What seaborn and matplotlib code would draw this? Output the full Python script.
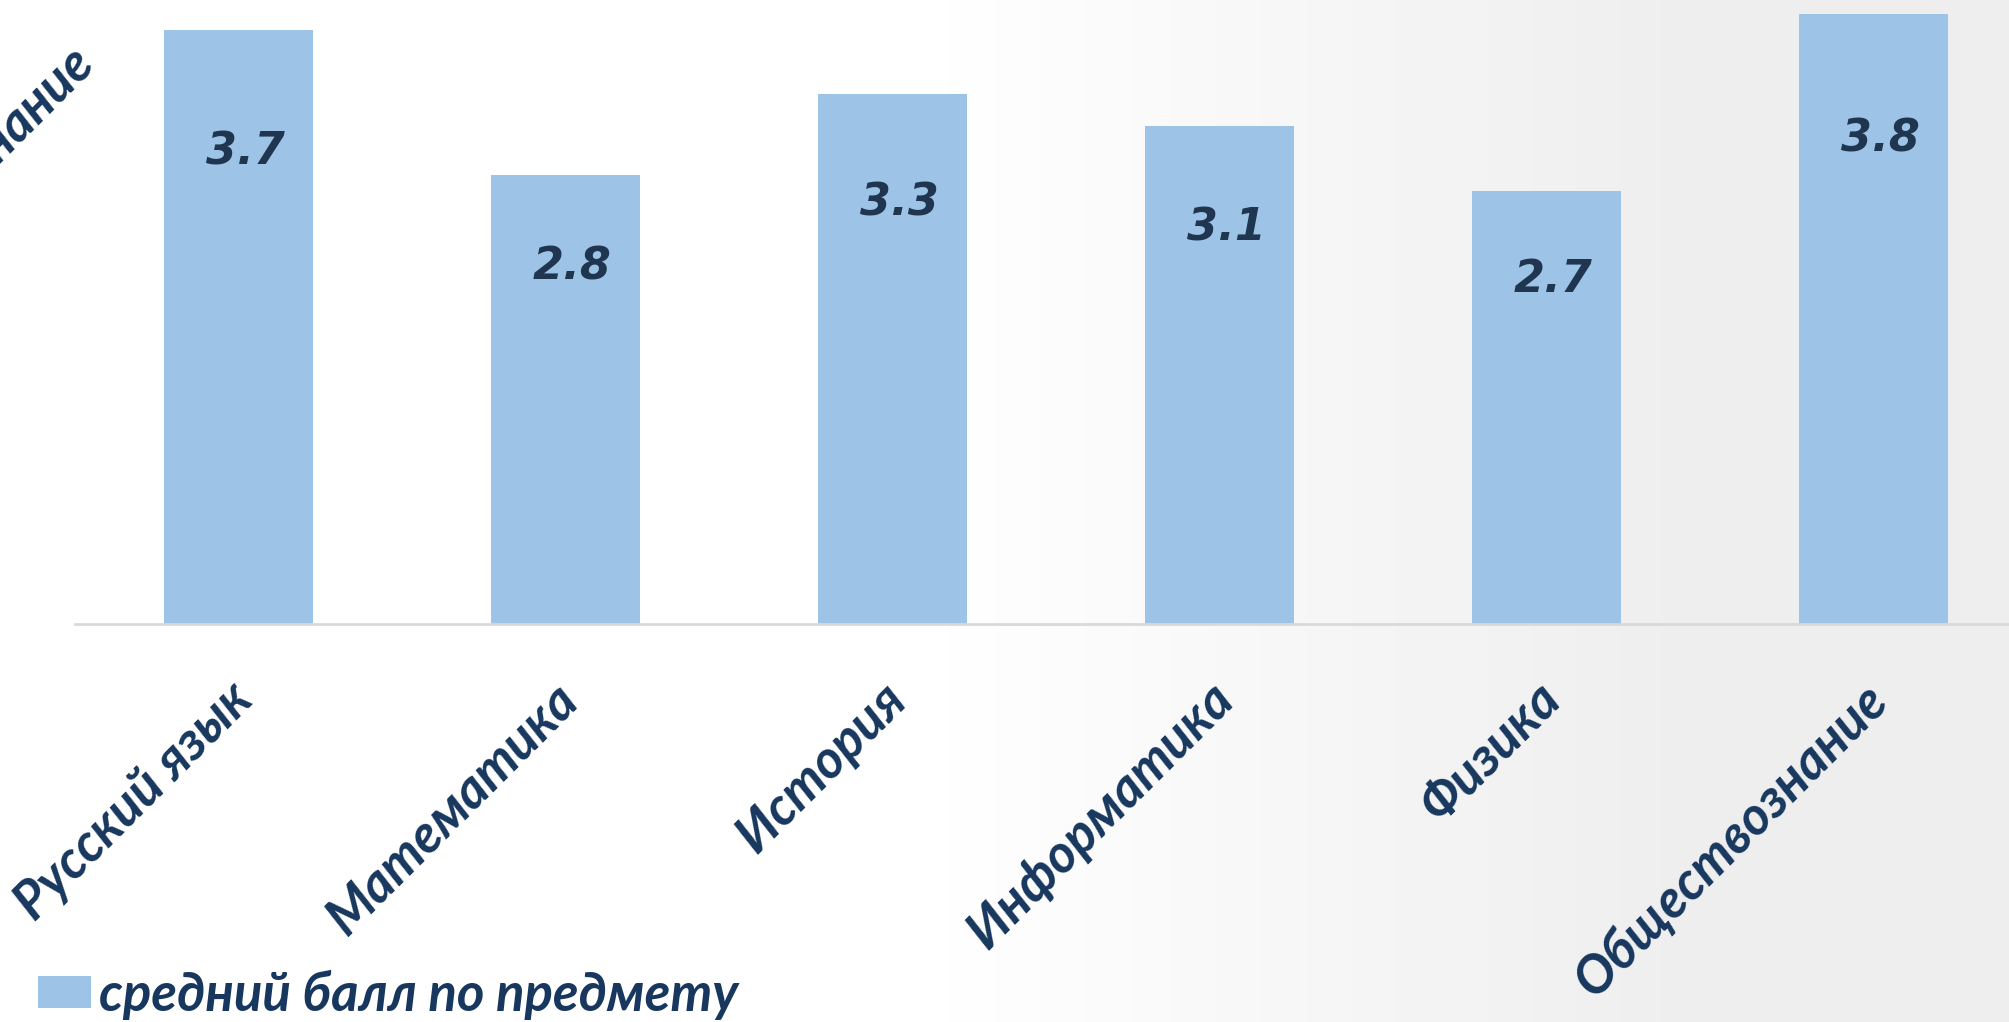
import numpy as np
import matplotlib
matplotlib.use("Agg")
import matplotlib.pyplot as plt
import matplotlib.transforms as mtransforms
import seaborn as sns

# chart data
subjects = ["Русский язык", "Математика", "История", "Информатика", "Физика", "Обществознание"]
scores = [3.7, 2.8, 3.3, 3.1, 2.7, 3.8]
series_name = "средний балл по предмету"

bar_color = "#9DC3E6"
text_color = "#17375E"

sns.set_style("white")
plt.rcParams["font.family"] = ["Lato", "DejaVu Sans"]

fig = plt.figure(figsize=(20.09, 10.22), dpi=100)

# faint grey background on the right side
bg = fig.add_axes([0, 0, 1, 1], zorder=-10)
grad = np.clip((np.linspace(0, 1, 400) - 0.45) / 0.4, 0, 1)
img = 1 - 0.07 * np.tile(grad, (50, 1))
bg.imshow(img, cmap="gray", vmin=0, vmax=1, aspect="auto", extent=[0, 1, 0, 1])
bg.set_axis_off()

ax = fig.add_axes([75 / 2009, 1 - 624 / 1022, 1962 / 2009, 624 / 1022])
ax.patch.set_alpha(0)

sns.barplot(x=subjects, y=scores, color=bar_color, saturation=1, width=0.455,
            linewidth=0, label=series_name, ax=ax)

ax.set_xlim(-0.5, 5.5)
ax.set_ylim(0, 3.888)

for i, v in enumerate(scores):
    ax.text(i + 0.02, v * 0.795, f"{v:.1f}", ha="center", va="center",
            fontsize=32, fontweight="bold", fontstyle="italic",
            family="DejaVu Sans", color="#1F3550")

ax.set_xticks(range(len(subjects)))
ax.set_xticklabels(subjects, rotation=45, ha="right", rotation_mode="anchor",
                   fontsize=38, fontweight="bold", fontstyle="italic", color=text_color)
ax.tick_params(axis="x", length=0, pad=36)
shift = mtransforms.ScaledTranslation(-0.12, 0, fig.dpi_scale_trans)
for lbl in ax.get_xticklabels():
    lbl.set_transform(lbl.get_transform() + shift)
ax.set_yticks([])
ax.set_xlabel("")
ax.set_ylabel("")

for s in ["top", "right", "left"]:
    ax.spines[s].set_visible(False)
ax.spines["bottom"].set_color("#D9D9D9")
ax.spines["bottom"].set_linewidth(2)

# clipped label in the top left corner
fig.text(68 / 2009, 1 - 36 / 1022, "Обществознание", rotation=45, ha="right", va="top",
         rotation_mode="anchor", fontsize=38, fontweight="bold", fontstyle="italic",
         color=text_color)

leg = ax.legend(loc="lower left", bbox_to_anchor=(38 / 2009, 0.002), bbox_transform=fig.transFigure,
                frameon=False, fontsize=38, handlelength=1.0, handleheight=0.55,
                handletextpad=0.15, borderaxespad=0, borderpad=0)
for t in leg.get_texts():
    t.set_color(text_color)
    t.set_fontweight("bold")
    t.set_fontstyle("italic")

fig.savefig("out.png", dpi=100)
